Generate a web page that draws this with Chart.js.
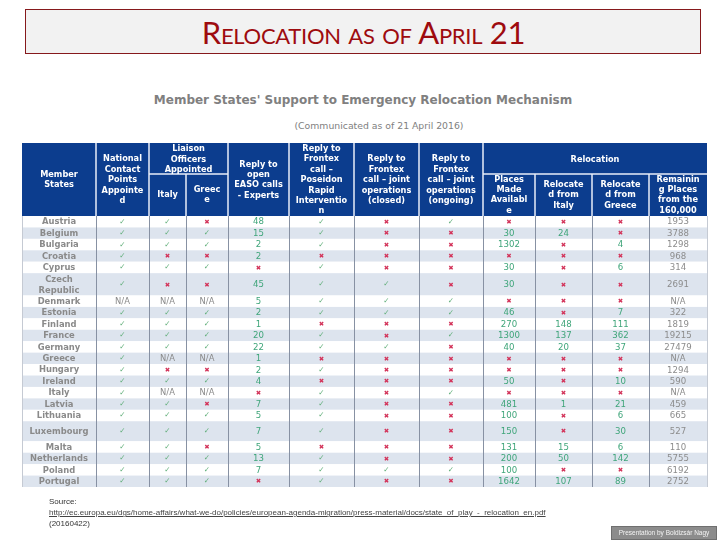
<!DOCTYPE html>
<html>
<head>
<meta charset="utf-8">
<script src="https://cdn.jsdelivr.net/npm/chart.js@4/dist/chart.umd.min.js"></script>
<style>
  html, body { margin: 0; padding: 0; background: #fff; }
  #wrap { position: relative; width: 720px; height: 540px; overflow: hidden; background: #fff; }
  #c { position: absolute; left: 0; top: 0; }
  .txt { position: absolute; white-space: nowrap; }
  #titlebox { position: absolute; left: 25px; top: 9px; width: 674px; height: 43px;
    border: 1.5px solid #86191c; background: #f2f2f2; }
  #title { left: 25px; width: 677px; top: 9px; height: 46px; line-height: 46px; text-align: center;
    font-family: Lato, "Open Sans", sans-serif; font-variant: small-caps; font-size: 31px; letter-spacing: -0.3px; color: #9e0b0f; }
  #sub1 { left: 0; width: 726px; top: 93px; text-align: center; font-family: "DejaVu Sans", sans-serif;
    font-weight: bold; font-size: 12px; color: #808080; }
  #sub2 { left: 0; width: 758px; top: 120px; text-align: center; font-family: "DejaVu Sans", sans-serif;
    font-size: 9.3px; color: #808080; }
  .src { left: 49px; font-family: "Liberation Sans", Arial, sans-serif; font-size: 8px; color: #333; }
  #badge { position: absolute; left: 611px; top: 526px; width: 104px; height: 12px; background: #8c8c8c;
    border: 1px solid #6f6f6f; color: #f4f4f4; font-family: "Liberation Sans", Arial, sans-serif;
    font-size: 6.5px; line-height: 12px; text-align: center; }
</style>
</head>
<body>
<div id="wrap">
  <div id="titlebox"></div>
  <div id="title" class="txt">Relocation as of April 21</div>
  <div id="sub1" class="txt">Member States' Support to Emergency Relocation Mechanism</div>
  <div id="sub2" class="txt">(Communicated as of 21 April 2016)</div>
  <canvas id="c" width="720" height="540"></canvas>
  <div class="txt src" style="top:497px">Source:</div>
  <div class="txt src" style="top:508px;text-decoration:underline;color:#444">http://ec.europa.eu/dgs/home-affairs/what-we-do/policies/european-agenda-migration/press-material/docs/state_of_play_-_relocation_en.pdf</div>
  <div class="txt src" style="top:519px">(20160422)</div>
  <div id="badge">Presentation by Boldizsár Nagy</div>
</div>
<script>
// ---------------- DATA ----------------
const Y = true, N = false; // Y = tick, N = cross
const states = ['Austria','Belgium','Bulgaria','Croatia','Cyprus','Czech\nRepublic','Denmark','Estonia','Finland','France','Germany','Greece','Hungary','Ireland','Italy','Latvia','Lithuania','Luxembourg','Malta','Netherlands','Poland','Portugal'];
const ncpAppointed     = [Y,Y,Y,Y,Y,Y,'N/A',Y,Y,Y,Y,Y,Y,Y,Y,Y,Y,Y,Y,Y,Y,Y];
const liaisonItaly     = [Y,Y,Y,N,Y,N,'N/A',Y,Y,Y,Y,'N/A',N,Y,'N/A',Y,Y,Y,Y,Y,Y,Y];
const liaisonGreece    = [N,Y,Y,N,Y,N,'N/A',Y,Y,Y,Y,'N/A',N,Y,'N/A',N,Y,Y,N,Y,Y,Y];
const easoExperts      = [48,15,2,2,N,45,5,2,1,20,22,1,2,4,N,7,5,7,5,13,7,N];
const frontexPoseidon  = [Y,Y,Y,N,Y,Y,Y,Y,N,Y,Y,N,Y,N,Y,Y,Y,Y,N,Y,Y,Y];
const frontexClosed    = [N,N,N,N,N,Y,Y,Y,N,N,Y,N,N,N,N,N,N,N,N,N,Y,N];
const frontexOngoing   = [Y,N,N,N,N,N,Y,Y,N,Y,N,N,N,N,Y,N,N,N,N,N,Y,N];
const placesAvailable  = [N,30,1302,N,30,30,N,46,270,1300,40,N,N,50,N,481,100,150,131,200,100,1642];
const relocatedItaly   = [N,24,N,N,N,N,N,N,148,137,20,N,N,N,N,1,N,N,15,50,N,107];
const relocatedGreece  = [N,N,4,N,6,N,N,7,111,362,37,N,N,10,N,21,6,30,6,142,N,89];
const remainingPlaces  = [1953,3788,1298,968,314,2691,'N/A',322,1819,19215,27479,'N/A',1294,590,'N/A',459,665,527,110,5755,6192,2752];

const headerLabels = ['Member\nStates','National\nContact\nPoints\nAppointe\nd','Italy','Greec\ne','Reply to\nopen\nEASO calls\n- Experts','Reply to\nFrontex\ncall –\nPoseidon\nRapid\nInterventio\nn','Reply to\nFrontex\ncall – joint\noperations\n(closed)','Reply to\nFrontex\ncall – joint\noperations\n(ongoing)','Places\nMade\nAvailabl\ne','Relocate\nd from\nItaly','Relocate\nd from\nGreece','Remainin\ng Places\nfrom the\n160,000'];
const groupLabels = ['Liaison\nOfficers\nAppointed','Relocation'];

const valueColumns = [ncpAppointed, liaisonItaly, liaisonGreece, easoExperts, frontexPoseidon, frontexClosed, frontexOngoing, placesAvailable, relocatedItaly, relocatedGreece, remainingPlaces];

// ---------------- LAYOUT (not data) ----------------
const layout = {
  colWidths: [74,53,37,42,61,65,65,64,52,57,57,58],
  rowWeight: { 'Czech\nRepublic': 1.95, 'Luxembourg': 1.75 },
  headerHeight: 73, headerSplit: 31,
  groups: [[2,4],[8,12]]
};
const colEdges = [0];
layout.colWidths.forEach(w => colEdges.push(colEdges[colEdges.length-1] + w));
const rowEdges = [0];
states.forEach(s => rowEdges.push(rowEdges[rowEdges.length-1] + (layout.rowWeight[s] || 1)));

// build cell points (column 0 = state names, 1..11 = values)
const cells = [];
states.forEach((s, r) => {
  const yc = (rowEdges[r] + rowEdges[r+1]) / 2;
  cells.push({x: (colEdges[0]+colEdges[1])/2, y: yc, v: s, kind: 'state'});
  valueColumns.forEach((col, ci) => {
    const c = ci + 1;
    cells.push({x: (colEdges[c]+colEdges[c+1])/2, y: yc, v: col[r], kind: c === 11 ? 'remain' : 'val'});
  });
});

const tablePlugin = {
  id: 'tablePlugin',
  beforeDatasetsDraw(chart) {
    const ctx = chart.ctx, xs = chart.scales.x, ys = chart.scales.y;
    const X = i => xs.getPixelForValue(colEdges[i]);
    const Yp = i => ys.getPixelForValue(rowEdges[i]);
    const nC = colEdges.length - 1;
    ctx.save();
    // row shading
    states.forEach((s, r) => {
      ctx.fillStyle = r % 2 === 1 ? '#dde4ee' : '#ffffff';
      ctx.fillRect(X(0), Yp(r), X(nC) - X(0), Yp(r+1) - Yp(r));
    });
    // body vertical lines
    ctx.strokeStyle = '#8791a3'; ctx.lineWidth = 1;
    for (let i = 1; i < nC; i++) {
      const x = Math.round(X(i)) + 0.5;
      ctx.beginPath(); ctx.moveTo(x, Yp(0)); ctx.lineTo(x, Yp(states.length)); ctx.stroke();
    }
    ctx.strokeStyle = '#c5cad3';
    [0, nC].forEach(i => { const x = Math.round(X(i)) + 0.5; ctx.beginPath(); ctx.moveTo(x, Yp(0)); ctx.lineTo(x, Yp(states.length)); ctx.stroke(); });
    // header
    const hB = Yp(0), hT = hB - layout.headerHeight, hM = hT + layout.headerSplit;
    ctx.fillStyle = '#0c3d8e';
    ctx.fillRect(X(0), hT, X(nC) - X(0), hB - hT);
    ctx.strokeStyle = '#e8eef8'; ctx.lineWidth = 1.5;
    const inGroup = i => layout.groups.some(g => i > g[0] && i < g[1]);
    for (let i = 1; i < nC; i++) {
      ctx.beginPath(); ctx.moveTo(X(i), inGroup(i) ? hM : hT); ctx.lineTo(X(i), hB); ctx.stroke();
    }
    layout.groups.forEach(g => { ctx.beginPath(); ctx.moveTo(X(g[0]), hM); ctx.lineTo(X(g[1]), hM); ctx.stroke(); });
    ctx.fillStyle = '#ffffff';
    ctx.font = 'bold 8.2px "DejaVu Sans"';
    ctx.textAlign = 'center'; ctx.textBaseline = 'middle';
    const lh = 10.4;
    const drawLines = (txt, cx, cy) => {
      const lines = txt.split('\n');
      lines.forEach((l, k) => ctx.fillText(l, cx, cy + (k - (lines.length-1)/2) * lh));
    };
    headerLabels.forEach((t, i) => {
      const cx = (X(i) + X(i+1)) / 2;
      const grouped = layout.groups.some(g => i >= g[0] && i < g[1]);
      drawLines(t, cx, grouped ? (hM + hB)/2 : (hT + hB)/2 + 0.5);
    });
    layout.groups.forEach((g, k) => drawLines(groupLabels[k], (X(g[0]) + X(g[1]))/2, (hT + hM)/2 + 1));
    ctx.restore();
  },
  afterDatasetsDraw(chart) {
    const ctx = chart.ctx;
    const meta = chart.getDatasetMeta(0);
    ctx.save();
    ctx.textAlign = 'center'; ctx.textBaseline = 'middle';
    meta.data.forEach((el, i) => {
      const c = cells[i];
      const v = c.v;
      if (c.kind === 'state') {
        ctx.font = 'bold 8.4px "DejaVu Sans"'; ctx.fillStyle = '#8a8a8a';
        const lines = v.split('\n');
        lines.forEach((l, k) => ctx.fillText(l, el.x, el.y + 0.5 + (k - (lines.length-1)/2) * 11));
      } else if (v === true) {
        ctx.font = '7.5px "DejaVu Sans"'; ctx.fillStyle = '#5fae78';
        ctx.fillText('\u2713', el.x, el.y);
      } else if (v === false) {
        ctx.font = '6.5px "DejaVu Sans"'; ctx.fillStyle = '#d3345a';
        ctx.fillText('\u2716', el.x, el.y + 0.5);
      } else if (v === 'N/A') {
        ctx.font = '8.4px "DejaVu Sans"'; ctx.fillStyle = '#8a8a8a';
        ctx.fillText('N/A', el.x, el.y + 0.5);
      } else {
        ctx.font = '8.6px "DejaVu Sans"';
        ctx.fillStyle = c.kind === 'remain' ? '#8c8c8c' : '#3fa57a';
        ctx.fillText(String(v), el.x, el.y + 0.5);
      }
    });
    ctx.restore();
  }
};

new Chart(document.getElementById('c'), {
  type: 'scatter',
  data: { datasets: [{ data: cells.map(c => ({x: c.x, y: c.y})), pointRadius: 0, pointHoverRadius: 0 }] },
  options: {
    responsive: false, animation: false, events: [],
    layout: { padding: { left: 22, right: 13, top: 216, bottom: 53 } },
    scales: {
      x: { type: 'linear', min: 0, max: colEdges[colEdges.length-1], display: false },
      y: { type: 'linear', min: 0, max: rowEdges[rowEdges.length-1], reverse: true, display: false }
    },
    plugins: { legend: { display: false }, tooltip: { enabled: false } }
  },
  plugins: [tablePlugin]
});
</script>
</body>
</html>
